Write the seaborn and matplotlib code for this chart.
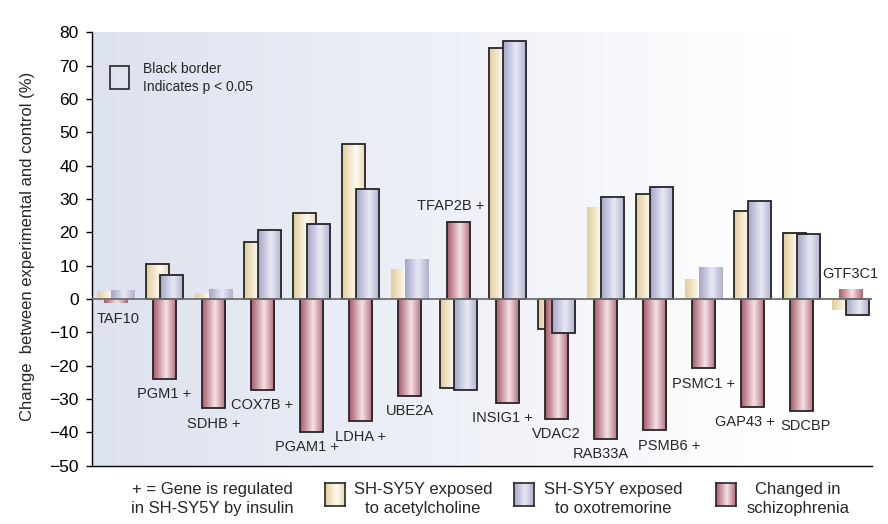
import numpy as np
import pandas as pd
import matplotlib
matplotlib.use("Agg")
import matplotlib.pyplot as plt
from matplotlib.colors import LinearSegmentedColormap
from matplotlib.patches import Rectangle
import seaborn as sns

# values (% change between experimental and control)
genes = ["TAF10", "PGM1 +", "SDHB +", "COX7B +", "PGAM1 +", "LDHA +", "UBE2A",
         "TFAP2B +", "INSIG1 +", "VDAC2", "RAB33A", "PSMB6 +", "PSMC1 +",
         "GAP43 +", "SDCBP", "GTF3C1"]
acetylcholine = [2.2, 10.5, 1.7, 17.2, 25.9, 46.5, 8.9, -26.8, 75.4, -9.0,
                 27.5, 31.4, 6.0, 26.3, 19.9, -3.4]
oxotremorine = [2.5, 7.3, 2.9, 20.7, 22.6, 33.0, 11.9, -27.3, 77.4, -10.2,
                30.7, 33.7, 9.6, 29.4, 19.5, -4.8]
schizophrenia = [-1.3, -24.0, -32.8, -27.2, -39.9, -36.7, -29.0, 23.2, -31.2,
                 -35.9, -41.9, -39.4, -20.8, -32.3, -33.5, 2.8]
# black border = p < 0.05
sig_ach = [False, True, False, True, True, True, False, True, True, True,
           False, True, False, True, True, False]
sig_oxo = [False, True, False, True, True, True, False, True, True, True,
           True, True, False, True, True, True]
sig_scz = [False, True, True, True, True, True, True, True, True, True,
           True, True, True, True, True, False]

sns.set_style("white")
plt.rcParams["font.family"] = ["Liberation Sans", "DejaVu Sans"]
plt.rcParams["axes.unicode_minus"] = True

W, H = 888, 524
fig = plt.figure(figsize=(W / 100, H / 100), dpi=100)
ax = fig.add_axes([92 / W, 1 - 465.6 / H, 780 / W, 433.3 / H])

cmaps = {
    "ach": LinearSegmentedColormap.from_list(
        "ach", [(0, "#e2cd9c"), (0.6, "#fffbf1"), (1, "#e6d6b0")]),
    "oxo": LinearSegmentedColormap.from_list(
        "oxo", [(0, "#a4a6c9"), (0.55, "#e9e9f4"), (1, "#adafd0")]),
    "scz": LinearSegmentedColormap.from_list(
        "scz", [(0, "#a9596a"), (0.55, "#f4e2e5"), (1, "#b06878")]),
}
grad = np.linspace(0, 1, 64)[None, :]

# background: blue-grey fading to white
bg = LinearSegmentedColormap.from_list(
    "bg", [(0, "#dde2ef"), (0.9, "#ffffff"), (1, "#ffffff")])
ax.imshow(grad, cmap=bg, aspect="auto", extent=[0, 1, 0, 1],
          transform=ax.transAxes, zorder=0)

idx = np.arange(len(genes))
series = [
    ("ach", acetylcholine, sig_ach, -0.14, 2),
    ("scz", schizophrenia, sig_scz, 0.0, 3),
    ("oxo", oxotremorine, sig_oxo, 0.145, 4),
]
for key, vals, sig, off, z in series:
    df = pd.DataFrame({"pos": idx + off, "val": vals})
    n0 = len(ax.patches)
    sns.barplot(data=df, x="pos", y="val", native_scale=True, width=0.47,
                errorbar=None, color="white", ax=ax)
    for p, s in zip(ax.patches[n0:], sig):
        x0, w = p.get_x(), p.get_width()
        y0, h = p.get_y(), p.get_height()
        ax.imshow(grad, cmap=cmaps[key], aspect="auto", interpolation="bicubic",
                  extent=[x0, x0 + w, min(y0, y0 + h), max(y0, y0 + h)],
                  zorder=z)
        p.set_facecolor("none")
        p.set_edgecolor("#262626" if s else "none")
        p.set_linewidth(1.3)
        p.set_zorder(z + 0.05)

ax.axhline(0, color="#707070", lw=1.3, zorder=6)

# gene labels at the end of the schizophrenia bar
nudge = {"PGAM1 +": -0.1, "TFAP2B +": -0.16, "INSIG1 +": -0.1,
         "RAB33A": -0.1, "PSMB6 +": 0.3, "GAP43 +": -0.16, "SDCBP": 0.08,
         "TAF10": 0.05}
for i, (g, v) in enumerate(zip(genes, schizophrenia)):
    y = v + 4.8 if v > 0 and i > 0 else v - 4.6
    ax.text(i + nudge.get(g, 0), y, g, ha="center", va="center",
            fontsize=10.5, zorder=7)

ax.set_xlim(-0.48, 15.44)
ax.set_ylim(-50, 80)
ax.set_yticks(range(-50, 81, 10))
ax.set_xticks([])
ax.set_xlabel("")
ax.set_ylabel("")
ax.tick_params(axis="y", direction="out", length=4.5, width=1,
               labelsize=12.5, pad=5, left=True, colors="black")
for side in ["top", "right"]:
    ax.spines[side].set_visible(False)
for side in ["left", "bottom"]:
    ax.spines[side].set_color("black")
    ax.spines[side].set_linewidth(1)

fig.text(28 / W, 1 - 246 / H, "Change  between experimental and control (%)",
         rotation=90, ha="center", va="center", fontsize=12)

# significance key, top left
ax.add_patch(Rectangle((110 / W, 1 - 89 / H), 19 / W, 23 / H,
                       transform=fig.transFigure, fill=False,
                       edgecolor="#262626", lw=1.2, zorder=8))
fig.text(143 / W, 1 - 78 / H, "Black border\nIndicates p < 0.05",
         ha="left", va="center", fontsize=10, linespacing=1.3)

# bottom key
fig.text(212 / W, 1 - 499 / H, "+ = Gene is regulated\nin SH-SY5Y by insulin",
         ha="center", va="center", fontsize=12, linespacing=1.3)
keys = [
    ("ach", 325, 423, "SH-SY5Y exposed\nto acetylcholine"),
    ("oxo", 514, 613, "SH-SY5Y exposed\nto oxotremorine"),
    ("scz", 716, 798, "Changed in\nschizophrenia"),
]
for key, sx, tx, label in keys:
    kax = fig.add_axes([sx / W, 1 - 506 / H, 20 / W, 23 / H])
    kax.imshow(grad, cmap=cmaps[key], aspect="auto", interpolation="bicubic")
    kax.set_xticks([])
    kax.set_yticks([])
    for sp in kax.spines.values():
        sp.set_visible(True)
        sp.set_color("#262626")
        sp.set_linewidth(1.2)
    fig.text(tx / W, 1 - 499 / H, label, ha="center", va="center",
             fontsize=12, linespacing=1.3)

fig.savefig("out.png", dpi=100)
